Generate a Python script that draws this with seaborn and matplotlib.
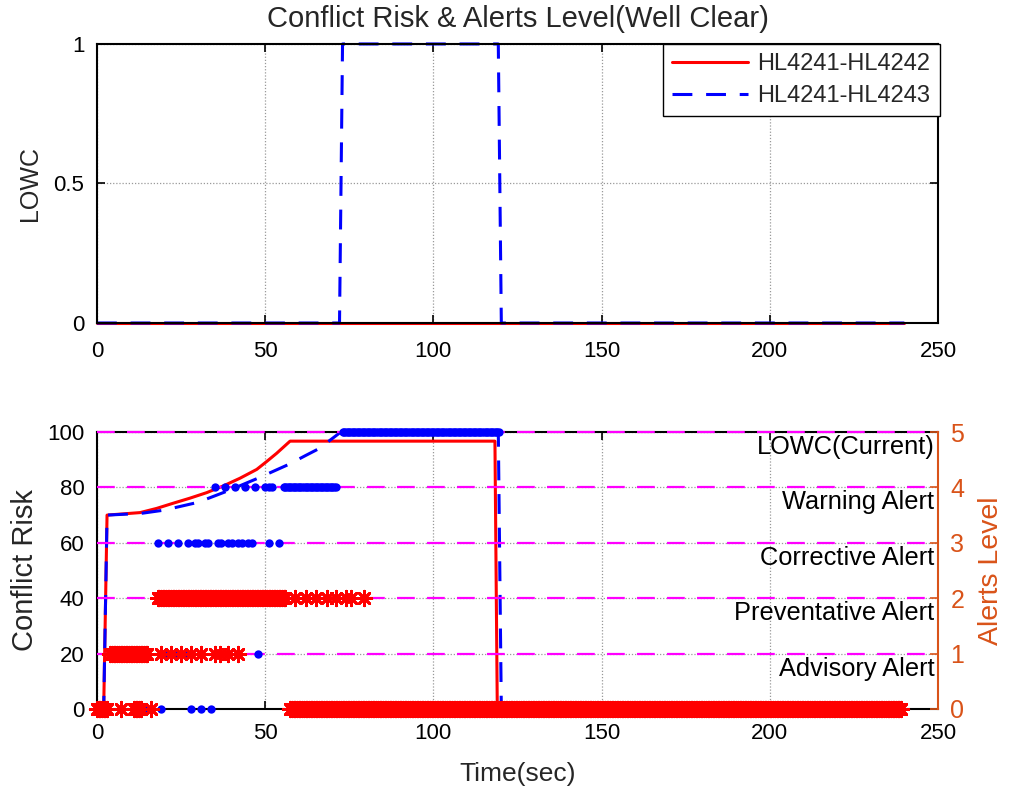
import numpy as np
import pandas as pd
import matplotlib
matplotlib.use("Agg")
import matplotlib.pyplot as plt
import seaborn as sns

# ---------------- data ----------------
pair_names = ["HL4241-HL4242", "HL4241-HL4243"]

# LOWC (top panel)
lowc_t_42 = [0, 240]
lowc_v_42 = [0, 0]
lowc_t_43 = [0, 72.1, 73.0, 119.3, 120.2, 240]
lowc_v_43 = [0, 0, 1, 1, 0, 0]

# Conflict risk (bottom panel, left axis)
cr_t_42 = [0, 2, 3, 12.8, 17.7, 22.7, 27.6, 32.6, 37.5, 42.5, 47.5, 50.4, 53.4, 57.4, 118.3, 119.0, 240]
cr_v_42 = [0, 0, 70, 70.9, 72.4, 74.3, 76.1, 78.1, 80.5, 83.3, 86.5, 89.3, 92.3, 96.7, 96.7, 0, 0]
cr_t_43 = [0, 2, 3, 13, 20, 30, 39, 48, 57, 62, 66, 72.5, 119.3, 120.2, 240]
cr_v_43 = [0, 0, 70, 70.6, 71.8, 74.6, 78.8, 83.4, 88.3, 91.5, 94.0, 100, 100, 0, 0]

# Alert level samples (time in s, half-second steps in the dense runs)
red_alert_times = {
    0: [0, 0.5, 1, 1.5, 2, 2.5, 3, 7, 11, 11.5, 12, 12.5, 13, 16] + [k / 2 for k in range(115, 479)],
    1: [k / 2 for k in range(8, 31)] + [19, 22, 25, 28, 31, 35, 36.5, 39, 42],
    2: [k / 2 for k in range(36, 113)] + [59, 62, 65, 68.5, 71, 74, 75.5, 79.5],
}
blue_alert_times = {
    0: [0, 1, 2, 14.5, 19, 28, 31, 34] + list(range(121, 240)),
    1: [20, 23, 26.5, 48],
    3: [18, 21, 24, 27, 29, 30, 32, 33, 36, 37, 39, 40, 42, 43, 45, 46, 51, 54],
    4: [35, 38, 41, 44, 47, 50, 51, 52] + [k / 2 for k in range(111, 143)],
    5: [k / 2 for k in range(146, 240)],
}

alert_levels = [1, 2, 3, 4, 5]
alert_names = ["Advisory Alert", "Preventative Alert", "Corrective Alert",
               "Warning Alert", "LOWC(Current)"]

xticks = [0, 50, 100, 150, 200, 250]
top_yticks = [0, 0.5, 1]
top_yticklabels = ["0", "0.5", "1"]
bot_yticks = [0, 20, 40, 60, 80, 100]
right_yticks = [0, 1, 2, 3, 4, 5]

# ---------------- style ----------------
sns.set_style("white")
plt.rcParams["font.family"] = ["Liberation Sans", "DejaVu Sans"]
FS = 16
RED = "#FF0000"
BLUE = "#0000FF"
MAG = "#FF00FF"
ORANGE = "#D95319"
DASH = (0, (6.5, 4.5))

fig = plt.figure(figsize=(10.1, 7.95), dpi=100)
ax1 = fig.add_axes([0.096, 0.5937, 0.8327, 0.3510])
ax2 = fig.add_axes([0.096, 0.1082, 0.8327, 0.3484])


def style_axes(ax, right=True):
    ax.tick_params(direction="in", length=6, width=1.2, labelsize=FS, pad=9,
                   top=True, right=right, bottom=True, left=True, colors="black")
    ax.tick_params(axis="x", pad=13)
    for s in ax.spines.values():
        s.set_linewidth(1.5)
        s.set_color("black")
    ax.grid(True, linestyle=(0, (1, 1.5)), color="0.6", linewidth=0.9)


# ---------------- top panel ----------------
df42 = pd.DataFrame({"t": lowc_t_42, "v": lowc_v_42})
df43 = pd.DataFrame({"t": lowc_t_43, "v": lowc_v_43})
sns.lineplot(data=df42, x="t", y="v", ax=ax1, sort=False, estimator=None,
             color=RED, lw=2.2, label=pair_names[0])
sns.lineplot(data=df43, x="t", y="v", ax=ax1, sort=False, estimator=None,
             color=BLUE, lw=2.2, linestyle=DASH, label=pair_names[1])
ax1.set_xlim(0, 250)
ax1.set_ylim(0, 1)
ax1.set_xticks(xticks)
ax1.set_yticks(top_yticks)
ax1.set_yticklabels(top_yticklabels)
style_axes(ax1)
ax1.set_xlabel("")
ax1.set_ylabel("LOWC", fontsize=FS + 2, labelpad=8)
ax1.set_title("Conflict Risk & Alerts Level(Well Clear)", fontsize=21, pad=12)
leg = ax1.legend(loc="upper right", bbox_to_anchor=(1.002, 1.0), borderaxespad=0,
                 fontsize=FS + 1, frameon=True, fancybox=False, framealpha=1,
                 edgecolor="black", handlelength=3.2, handletextpad=0.4,
                 borderpad=0.4, labelspacing=0.4)
leg.get_frame().set_linewidth(1.0)
for l in ax1.get_lines():
    l.set_clip_on(False)

# ---------------- bottom panel ----------------
dc42 = pd.DataFrame({"t": cr_t_42, "v": cr_v_42})
dc43 = pd.DataFrame({"t": cr_t_43, "v": cr_v_43})
sns.lineplot(data=dc42, x="t", y="v", ax=ax2, sort=False, estimator=None,
             color=RED, lw=2.2)
sns.lineplot(data=dc43, x="t", y="v", ax=ax2, sort=False, estimator=None,
             color=BLUE, lw=2.2, linestyle=DASH)
ax2.set_xlim(0, 250)
ax2.set_ylim(0, 100)
ax2.set_xticks(xticks)
ax2.set_yticks(bot_yticks)
style_axes(ax2, right=False)
ax2.tick_params(axis="x", pad=10)
ax2.spines["right"].set_visible(False)
ax2.set_xlabel("Time(sec)", fontsize=19, labelpad=13)
ax2.set_ylabel("Conflict Risk", fontsize=21, labelpad=6)

axr = ax2.twinx()
axr.set_ylim(0, 5)
axr.set_yticks(right_yticks)
for side in ["top", "bottom", "left"]:
    axr.spines[side].set_visible(False)
axr.spines["right"].set_color(ORANGE)
axr.spines["right"].set_linewidth(1.5)
axr.tick_params(axis="y", direction="in", length=6, width=1.2, labelsize=FS + 2,
                pad=9, colors=ORANGE)
axr.set_ylabel("Alerts Level", fontsize=20.5, color=ORANGE, labelpad=10)
axr.grid(False)

for lvl in alert_levels:
    axr.axhline(lvl, color=MAG, lw=1.6, linestyle=(0, (8, 5.5)), zorder=1,
                clip_on=False)

# alert markers
rows = []
for lvl, ts in red_alert_times.items():
    rows += [{"t": t, "lvl": lvl} for t in ts]
red_df = pd.DataFrame(rows)
rows = []
for lvl, ts in blue_alert_times.items():
    rows += [{"t": t, "lvl": lvl} for t in ts]
blue_df = pd.DataFrame(rows)

sns.scatterplot(data=blue_df, x="t", y="lvl", ax=axr, marker="o", s=36,
                color=BLUE, linewidth=0, clip_on=False, zorder=3)
sns.scatterplot(data=red_df, x="t", y="lvl", ax=axr, marker=(8, 2, 0), s=110,
                color=RED, edgecolor=RED, linewidth=2.0, clip_on=False, zorder=4)
axr.set_xlabel("")
axr.set_xlim(0, 250)

for lvl, name in zip(alert_levels, alert_names):
    axr.text(249, lvl - 0.27, name, ha="right", va="center", fontsize=18.3,
             color="black", zorder=5)

fig.savefig("out.png", dpi=100)
